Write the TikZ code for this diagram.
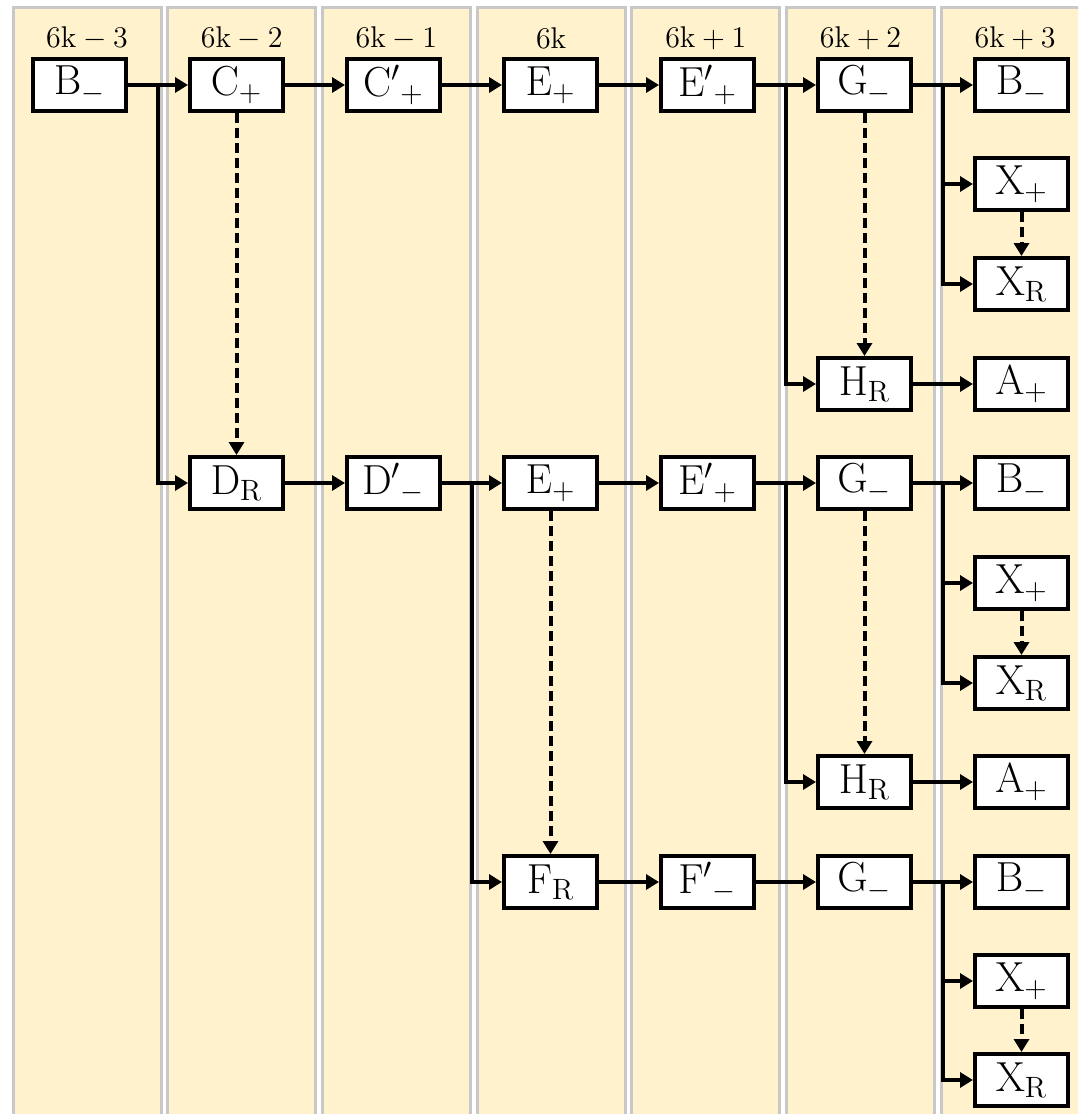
\RequirePackage{fix-cm}
\documentclass[tikz,border=0pt]{standalone}
\usepackage{amsmath,amssymb}
\usepackage{xcolor}
\usepackage{tikz}
\usetikzlibrary{positioning, arrows.meta, calc}

\definecolor{bandfill}{HTML}{FFF2CC}
\definecolor{bandline}{HTML}{C8C8C8}

\begin{document}
\begin{tikzpicture}[
    x=0.5pt, y=-0.5pt,
    every node/.style={font=\fontsize{21}{25}\selectfont},
    band/.style={draw=bandline, line width=1.5pt, fill=bandfill},
    head/.style={font=\fontsize{15}{18}\selectfont},
    state/.style={draw, line width=2pt, fill=white, minimum width=46.5pt,
                  minimum height=26pt, inner sep=0pt},
    arrow/.style={-{Triangle[length=6.5pt, width=7.5pt]}, line width=2pt},
    dasharrow/.style={arrow, dash pattern=on 5pt off 2.5pt},
]
\clip (0,0) rectangle (1078,1114);
\fill[white] (0,0) rectangle (1078,1114);

% time-step columns
\foreach \i/\t in {0/6\mathrm{k}-3, 1/6\mathrm{k}-2, 2/6\mathrm{k}-1, 3/6\mathrm{k},
                   4/6\mathrm{k}+1, 5/6\mathrm{k}+2, 6/6\mathrm{k}+3} {
  \draw[band] (13+154.7*\i,7) rectangle +(148,1200);
  \node[head] (t\i) at (87+154.7*\i,38) {$\t$};
}

% first row
\node[state] (b1)  at (79.5,85)   {$\mathrm{B}_{-}$};
\node[state] (c1)  at (236.5,85)  {$\mathrm{C}_{+}$};
\node[state] (cp1) at (393.5,85)  {$\mathrm{C}'{}_{+}$};
\node[state] (e1)  at (550.5,85)  {$\mathrm{E}_{+}$};
\node[state] (ep1) at (707.5,85)  {$\mathrm{E}'{}_{+}$};
\node[state] (g1)  at (864.5,85)  {$\mathrm{G}_{-}$};
\node[state] (bb1) at (1021.5,85) {$\mathrm{B}_{-}$};
\node[state] (x1)  at (1021.5,184) {$\mathrm{X}_{+}$};
\node[state] (xr1) at (1021.5,284) {$\mathrm{X}_{\mathrm{R}}$};
\node[state] (h1)  at (864.5,384)  {$\mathrm{H}_{\mathrm{R}}$};
\node[state] (a1)  at (1021.5,384) {$\mathrm{A}_{+}$};

% second row
\node[state] (d2)  at (236.5,483)  {$\mathrm{D}_{\mathrm{R}}$};
\node[state] (dp2) at (393.5,483)  {$\mathrm{D}'{}_{-}$};
\node[state] (e2)  at (550.5,483)  {$\mathrm{E}_{+}$};
\node[state] (ep2) at (707.5,483)  {$\mathrm{E}'{}_{+}$};
\node[state] (g2)  at (864.5,483)  {$\mathrm{G}_{-}$};
\node[state] (bb2) at (1021.5,483) {$\mathrm{B}_{-}$};
\node[state] (x2)  at (1021.5,583) {$\mathrm{X}_{+}$};
\node[state] (xr2) at (1021.5,683) {$\mathrm{X}_{\mathrm{R}}$};
\node[state] (h2)  at (864.5,782)  {$\mathrm{H}_{\mathrm{R}}$};
\node[state] (a2)  at (1021.5,782) {$\mathrm{A}_{+}$};

% third row
\node[state] (f3)  at (550.5,882)  {$\mathrm{F}_{\mathrm{R}}$};
\node[state] (fp3) at (707.5,882)  {$\mathrm{F}'{}_{-}$};
\node[state] (g3)  at (864.5,882)  {$\mathrm{G}_{-}$};
\node[state] (bb3) at (1021.5,882) {$\mathrm{B}_{-}$};
\node[state] (x3)  at (1021.5,981) {$\mathrm{X}_{+}$};
\node[state] (xr3) at (1021.5,1080) {$\mathrm{X}_{\mathrm{R}}$};

% branch points
\coordinate (s1) at ($(b1.east)!0.5!(c1.west)$);
\coordinate (s2) at ($(ep1.east)!0.5!(g1.west)$);
\coordinate (s3) at ($(g1.east)!0.5!(bb1.west)$);
\coordinate (s4) at ($(dp2.east)!0.5!(e2.west)$);
\coordinate (s5) at ($(ep2.east)!0.5!(g2.west)$);
\coordinate (s6) at ($(g2.east)!0.5!(bb2.west)$);
\coordinate (s7) at ($(g3.east)!0.5!(bb3.west)$);

\draw[arrow] (b1) -- (c1);
\draw[arrow] (s1) |- (d2);
\draw[arrow] (c1) -- (cp1);
\draw[arrow] (cp1) -- (e1);
\draw[arrow] (e1) -- (ep1);
\draw[arrow] (ep1) -- (g1);
\draw[arrow] (s2) |- (h1);
\draw[arrow] (g1) -- (bb1);
\draw[arrow] (s3) |- (x1);
\draw[arrow] (s3) |- (xr1);
\draw[arrow] (h1) -- (a1);

\draw[arrow] (d2) -- (dp2);
\draw[arrow] (dp2) -- (e2);
\draw[arrow] (s4) |- (f3);
\draw[arrow] (e2) -- (ep2);
\draw[arrow] (ep2) -- (g2);
\draw[arrow] (s5) |- (h2);
\draw[arrow] (g2) -- (bb2);
\draw[arrow] (s6) |- (x2);
\draw[arrow] (s6) |- (xr2);
\draw[arrow] (h2) -- (a2);

\draw[arrow] (f3) -- (fp3);
\draw[arrow] (fp3) -- (g3);
\draw[arrow] (g3) -- (bb3);
\draw[arrow] (s7) |- (x3);
\draw[arrow] (s7) |- (xr3);

\draw[dasharrow] (c1) -- (d2);
\draw[dasharrow] (g1) -- (h1);
\draw[dasharrow] (x1) -- (xr1);
\draw[dasharrow] (e2) -- (f3);
\draw[dasharrow] (g2) -- (h2);
\draw[dasharrow] (x2) -- (xr2);
\draw[dasharrow] (x3) -- (xr3);
\end{tikzpicture}
\end{document}
